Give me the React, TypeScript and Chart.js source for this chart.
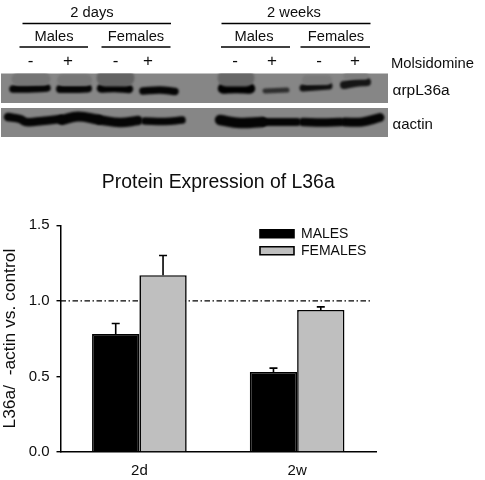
import React, { useEffect, useRef } from "react";
import { Chart, registerables } from "chart.js";

Chart.register(...registerables);

// ---- bar chart values
const categories = ["2d", "2w"];
const malesValues = [0.78, 0.53];
const femalesValues = [1.17, 0.94];
const malesErrors = [0.07, 0.025];
const femalesErrors = [0.13, 0.02];
const referenceLevel = 1.0;
const chartTitle = "Protein Expression of L36a";
const yAxisTitle = "L36a/  -actin vs. control";
const yTicks = [0, 0.5, 1, 1.5];

// ---- blot labels
const timeLabels = ["2 days", "2 weeks"];
const sexLabels = ["Males", "Females", "Males", "Females"];
const treatmentLabels = ["-", "+", "-", "+", "-", "+", "-", "+"];
const treatmentName = "Molsidomine";
const antibodyLabels = ["\u03B1rpL36a", "\u03B1actin"];

// ---- blot traces: [x, y] along each band on the gel
const rpBands: number[][][] = [
  [[13, 89], [28, 89], [47, 88]],
  [[60, 89], [74, 89], [88, 88.5]],
  [[101, 88.5], [115, 88], [129, 89]],
  [[143, 91], [160, 90], [175, 91.5]],
  [[223, 88.5], [236, 88], [250, 88.5]],
  [[265, 91], [276, 90.5], [287, 90]],
  [[303, 88], [316, 87], [329, 86]],
  [[344, 85], [355, 83], [367, 82]],
];
const rpWidths = [7.5, 8, 8.5, 7.5, 10.5, 5, 7, 8];
const rpTones = ["#050505", "#050505", "#030303", "#050505", "#000000", "#2e2e2e", "#101010", "#151515"];
const smears: number[][][] = [
  [[18, 79], [44, 79]],
  [[63, 80], [86, 80]],
  [[105, 78], [126, 78]],
  [[226, 78], [246, 78]],
  [[307, 80], [327, 80]],
  [[347, 76], [365, 76]],
];
const smearWidths = [13, 12, 17, 17, 10, 7];
const smearTones = ["#757575", "#777777", "#646464", "#686868", "#7a7a7a", "#7c7c7c"];
const actinBands: number[][][] = [
  [[8, 117], [20, 119], [26, 122], [42, 121], [61, 119]],
  [[62, 120], [78, 116.5], [98, 119.5]],
  [[100, 120], [120, 122.5], [138, 120.5]],
  [[145, 121], [165, 121.5], [182, 120]],
  [[220, 120], [240, 123], [262, 122]],
  [[264, 122], [280, 122], [297, 122]],
  [[303, 122], [322, 122.5], [340, 122]],
  [[345, 122], [362, 122], [380, 117.5]],
];
const actinWidths = [8.5, 10, 9.5, 7.5, 10.5, 8, 8.5, 9];

function line(points: number[][], color: string, width: number) {
  return {
    data: points.map(([x, y]) => ({ x, y })),
    borderColor: color,
    borderWidth: width,
    borderCapStyle: "round" as const,
    borderJoinStyle: "round" as const,
    tension: 0.4,
    pointRadius: 0,
    clip: false,
  };
}

const TEXT = "#0d0d0d";
const FONT = '"Liberation Sans", Arial, sans-serif';

const panelPlugin = {
  id: "panels",
  beforeDatasetsDraw(chart: any) {
    const { ctx, scales } = chart;
    const px = (v: number) => scales.x.getPixelForValue(v);
    const py = (v: number) => scales.y.getPixelForValue(v);
    ctx.save();
    ctx.fillStyle = "#868686";
    const clip = new Path2D();
    [[73.5, 103], [108, 137]].forEach(([a, b]) => {
      ctx.fillRect(px(1), py(a), px(388) - px(1), py(b) - py(a));
      clip.rect(px(1), py(a), px(388) - px(1), py(b) - py(a));
    });
    ctx.clip(clip);
    ctx.filter = "blur(1px)";
  },
  afterDatasetsDraw(chart: any) {
    chart.ctx.restore();
  },
  afterDraw(chart: any) {
    const { ctx, scales } = chart;
    const px = (v: number) => scales.x.getPixelForValue(v);
    const py = (v: number) => scales.y.getPixelForValue(v);
    ctx.save();
    ctx.strokeStyle = "#000";
    ctx.lineWidth = 1.7;
    const rules = [
      [22.5, 171, 23.5], [221.5, 370.5, 23.5],
      [19.5, 88, 47], [101.5, 170.5, 47], [221, 290, 47], [300.5, 370, 47],
    ];
    rules.forEach(([a, b, y]) => {
      ctx.beginPath();
      ctx.moveTo(px(a), py(y));
      ctx.lineTo(px(b), py(y));
      ctx.stroke();
    });
    ctx.fillStyle = TEXT;
    ctx.font = `14.7px ${FONT}`;
    ctx.textBaseline = "alphabetic";
    ctx.textAlign = "center";
    [92, 294].forEach((x, i) => ctx.fillText(timeLabels[i], px(x), py(17)));
    [54, 136, 254, 336].forEach((x, i) => ctx.fillText(sexLabels[i], px(x), py(41)));
    ctx.font = `17px ${FONT}`;
    [30.5, 68, 115.5, 148, 235, 272, 319, 355].forEach((x, i) =>
      ctx.fillText(treatmentLabels[i], px(x), py(65.5))
    );
    ctx.textAlign = "left";
    ctx.font = `14.8px ${FONT}`;
    ctx.fillText(treatmentName, px(391), py(68));
    ctx.font = `15.5px ${FONT}`;
    ctx.fillText(antibodyLabels[0], px(392.5), py(95));
    ctx.font = `15px ${FONT}`;
    ctx.fillText(antibodyLabels[1], px(392.5), py(128.5));
    ctx.restore();
  },
};

const barAnnotations = {
  id: "barAnnotations",
  beforeDraw(chart: any) {
    const legend = chart.legend;
    if (legend) {
      legend.left = chart.chartArea.left + 196.5;
      legend.top = chart.chartArea.top - 1.5;
      legend.right = chart.chartArea.right + 100;
      legend.bottom = chart.chartArea.bottom;
    }
  },
  beforeDatasetsDraw(chart: any) {
    const { ctx, scales, chartArea } = chart;
    const y = scales.y.getPixelForValue(referenceLevel);
    ctx.save();
    ctx.strokeStyle = "#000";
    ctx.lineWidth = 1.3;
    ctx.setLineDash([5.5, 2.5, 1.5, 2.5]);
    ctx.beginPath();
    ctx.moveTo(chartArea.left, y);
    ctx.lineTo(chartArea.right - 4, y);
    ctx.stroke();
    ctx.restore();
  },
  afterDatasetsDraw(chart: any) {
    const { ctx, scales } = chart;
    ctx.save();
    ctx.strokeStyle = "#000";
    ctx.lineWidth = 1.6;
    [malesErrors, femalesErrors].forEach((errs, d) => {
      const meta = chart.getDatasetMeta(d);
      const vals = d === 0 ? malesValues : femalesValues;
      errs.forEach((e, i) => {
        const x = meta.data[i].x;
        const top = scales.y.getPixelForValue(vals[i] + e);
        const base = scales.y.getPixelForValue(vals[i]);
        ctx.beginPath();
        ctx.moveTo(x, base);
        ctx.lineTo(x, top);
        ctx.moveTo(x - 4, top);
        ctx.lineTo(x + 4, top);
        ctx.stroke();
      });
    });
    ctx.restore();
  },
};

export default function App() {
  const blotRef = useRef<HTMLCanvasElement>(null);
  const barRef = useRef<HTMLCanvasElement>(null);

  useEffect(() => {
    const blot = new Chart(blotRef.current!, {
      type: "line",
      data: {
        datasets: [
          ...smears.map((p, i) => line(p, smearTones[i], smearWidths[i])),
          ...rpBands.map((p, i) => line(p, rpTones[i], rpWidths[i])),
          ...actinBands.map((p, i) => line(p, "#050505", actinWidths[i])),
        ] as any,
      },
      options: {
        responsive: false,
        animation: false,
        devicePixelRatio: 1,
        events: [],
        layout: { padding: 0 },
        plugins: { legend: { display: false }, title: { display: false }, tooltip: { enabled: false } },
        scales: {
          x: { type: "linear", min: 0, max: 485, display: false },
          y: { type: "linear", min: 0, max: 145, reverse: true, display: false },
        },
      },
      plugins: [panelPlugin],
    });

    const bars = new Chart(barRef.current!, {
      type: "bar",
      data: {
        labels: categories,
        datasets: [
          { label: "MALES", data: malesValues, backgroundColor: "#000000", borderColor: "#000000", borderWidth: 1.6 },
          { label: "FEMALES", data: femalesValues, backgroundColor: "#bfbfbf", borderColor: "#000000", borderWidth: 1.6 },
        ],
      },
      options: {
        responsive: false,
        animation: false,
        devicePixelRatio: 1,
        events: [],
        layout: { padding: { top: 171.5, left: 0, right: 109, bottom: 0 } },
        datasets: { bar: { categoryPercentage: 0.6, barPercentage: 1 } },
        plugins: {
          tooltip: { enabled: false },
          title: {
            display: true,
            text: chartTitle,
            fullSize: false,
            color: TEXT,
            font: { family: FONT, size: 19.4, weight: "normal" },
            padding: { top: 0, bottom: 30.5 },
          },
          legend: {
            position: "chartArea",
            align: "start",
            labels: {
              boxWidth: 34,
              boxHeight: 8,
              padding: 3,
              color: TEXT,
              font: { family: FONT, size: 14 },
            },
          },
        },
        scales: {
          x: {
            afterFit: (s: any) => { s.height = 28; },
            grid: { display: false },
            border: { color: "#000", width: 1.5 },
            ticks: { color: TEXT, padding: 2, font: { family: FONT, size: 15 } },
          },
          y: {
            min: 0,
            max: 1.5,
            afterFit: (s: any) => { s.width = 60.5; },
            afterBuildTicks: (s: any) => { s.ticks = yTicks.map((value) => ({ value })); },
            border: { color: "#000", width: 1.5 },
            grid: { drawOnChartArea: false, color: "#000", lineWidth: 1.4, tickLength: 4 },
            title: {
              display: true,
              text: yAxisTitle,
              color: TEXT,
              padding: 0,
              font: { family: FONT, size: 17.4 },
            },
            ticks: {
              color: TEXT,
              padding: 7,
              font: { family: FONT, size: 15 },
              callback: (v: any) => Number(v).toFixed(1),
            },
          },
        },
      } as any,
      plugins: [barAnnotations],
    });

    return () => {
      blot.destroy();
      bars.destroy();
    };
  }, []);

  const layer: React.CSSProperties = { position: "absolute", left: 0, top: 0, display: "block" };
  return (
    <div style={{ position: "absolute", left: 0, top: 0, width: 485, height: 480, background: "#fff", filter: "blur(0.3px)" }}>
      <canvas ref={blotRef} width={485} height={145} style={layer} />
      <canvas ref={barRef} width={485} height={480} style={layer} />
    </div>
  );
}
